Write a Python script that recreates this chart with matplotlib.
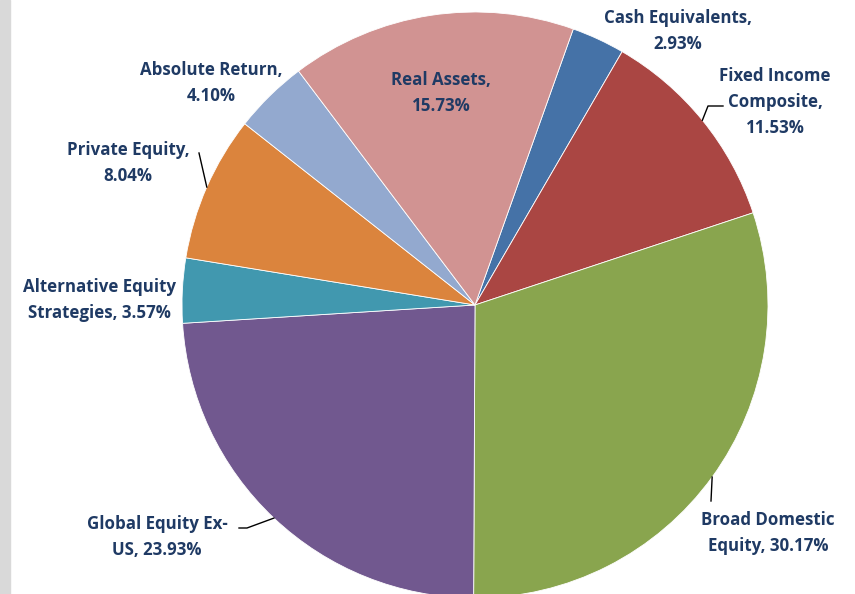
import numpy as np
import matplotlib
matplotlib.use('Agg')
import matplotlib.pyplot as plt

# data, clockwise from the top
categories = ['Cash Equivalents', 'Fixed Income Composite', 'Broad Domestic Equity',
              'Global Equity Ex-US', 'Alternative Equity Strategies', 'Private Equity',
              'Absolute Return', 'Real Assets']
shares = [2.93, 11.53, 30.17, 23.93, 3.57, 8.04, 4.10, 15.73]
label_texts = ['Cash Equivalents,\n2.93%', 'Fixed Income\nComposite,\n11.53%',
               'Broad Domestic\nEquity, 30.17%', 'Global Equity Ex-\nUS, 23.93%',
               'Alternative Equity\nStrategies, 3.57%', 'Private Equity,\n8.04%',
               'Absolute Return,\n4.10%', 'Real Assets,\n15.73%']
colors = ['#4572A7', '#AA4643', '#89A54E', '#71588F',
          '#4198AF', '#DB843D', '#93A9CF', '#D19392']

W, H = 855, 594
cx, cy, R = 475, 305, 293          # pixel layout of the pie
start = 90 - 19.6                  # first slice starts a bit right of 12 o'clock
txt_color = '#1F3A64'

# label centre (pixels) and leader path from label side (pixels), None = no leader
label_pos = [(678, 31), (775, 102), (768, 533), (157, 537),
             (99, 300), (128, 163), (211, 83), (441, 93)]
leaders = [None, [(723, 106), (708, 106)], [(711, 501)], [(239, 528), (247, 528)],
           None, [(199, 153)], None, None]

def py(y):
    return H - y

fig = plt.figure(figsize=(W/100, H/100), dpi=100)
ax = fig.add_axes([0, 0, 1, 1])
fig.patches.append(plt.Rectangle((0, 0), 10/W, 1, transform=fig.transFigure,
                                 color='#D9D9D9', zorder=0))

wedges, _ = ax.pie(shares, colors=colors, startangle=start, counterclock=False,
                   center=(cx, py(cy)), radius=R,
                   wedgeprops=dict(edgecolor='white', linewidth=0.6))
ax.set_xlim(0, W)
ax.set_ylim(0, H)
ax.set_aspect('auto')
ax.axis('off')

for i, w in enumerate(wedges):
    x, y = label_pos[i]
    ax.text(x, py(y), label_texts[i], ha='center', va='center', color=txt_color,
            fontsize=12.2, fontweight='bold', family='Open Sans', linespacing=1.55)
    if leaders[i] is not None:
        ang = np.deg2rad((w.theta1 + w.theta2) / 2)
        ex, ey = cx + R*np.cos(ang), py(cy) + R*np.sin(ang)
        pts = [(p[0], py(p[1])) for p in leaders[i]] + [(ex, ey)]
        ax.plot([p[0] for p in pts], [p[1] for p in pts], color='black', lw=1)

fig.savefig('out.png', dpi=100)
